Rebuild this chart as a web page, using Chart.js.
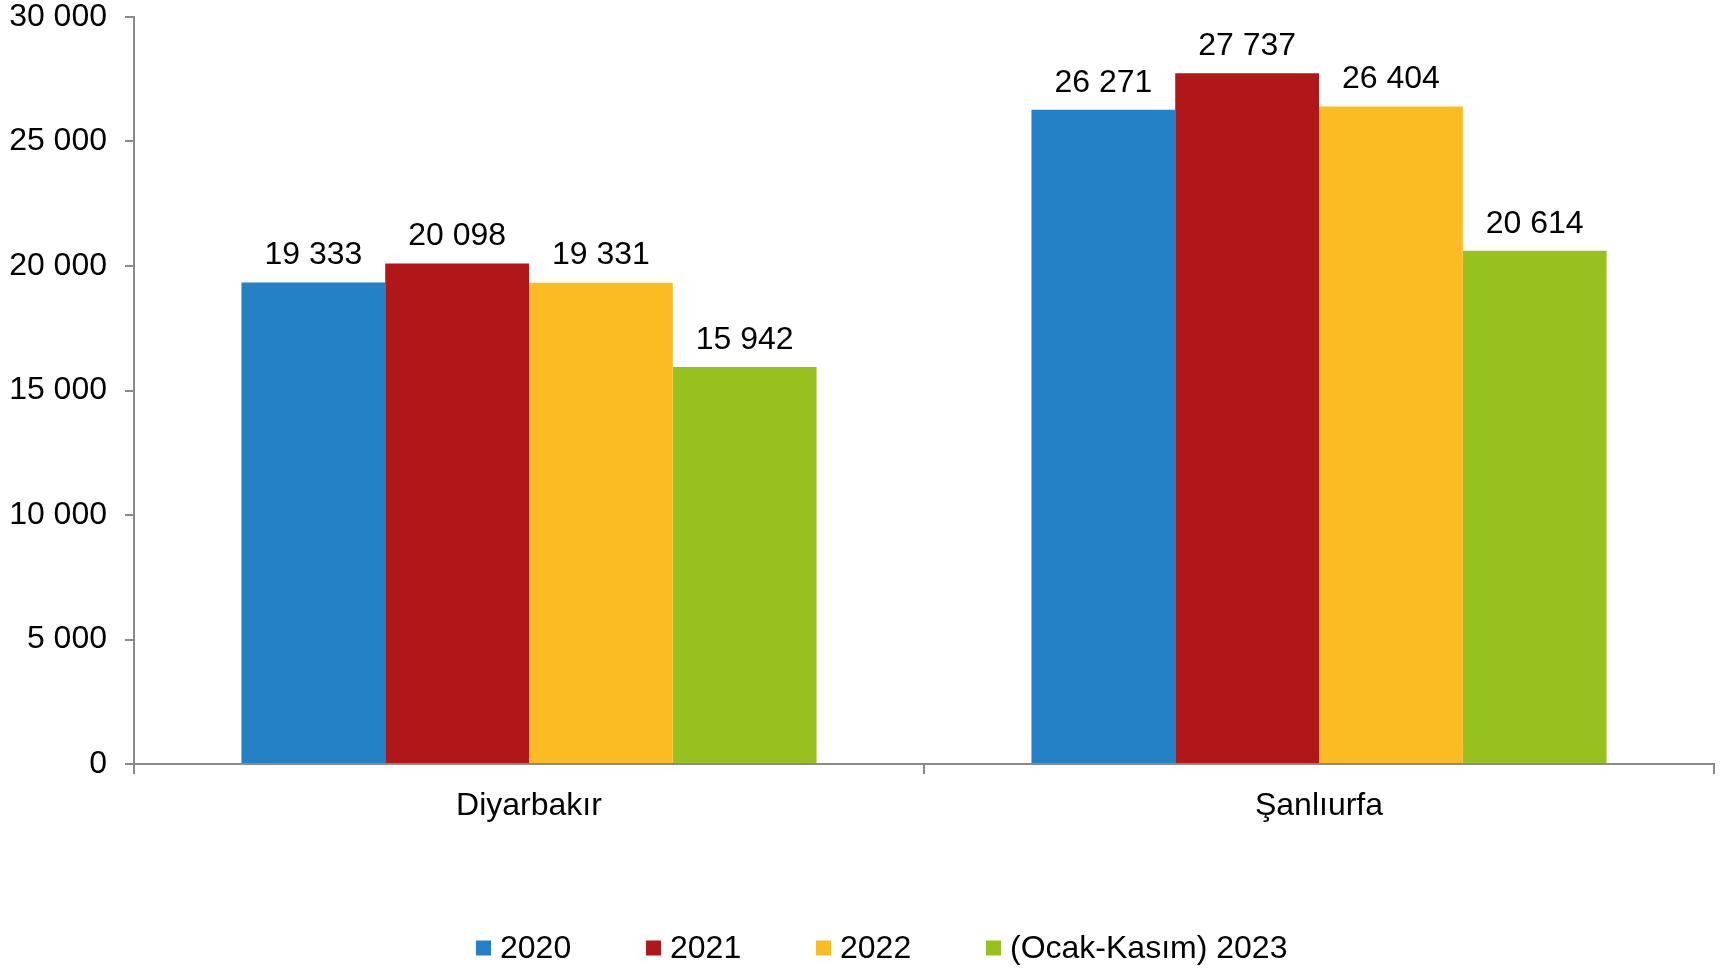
<!DOCTYPE html>
<html>
<head>
<meta charset="utf-8">
<script src="https://cdn.jsdelivr.net/npm/chart.js@4/dist/chart.umd.min.js"></script>
<style>
  html, body { margin: 0; padding: 0; background: #fff; }
  #wrap { width: 1724px; height: 970px; }
</style>
</head>
<body>
<div id="wrap"><canvas id="myChart" width="1724" height="970"></canvas></div>
<script>
var provinces = ['Diyarbakır', 'Şanlıurfa'];
var seriesNames = ['2020', '2021', '2022', '(Ocak-Kasım) 2023'];
var values2020 = [19333, 26271];
var values2021 = [20098, 27737];
var values2022 = [19331, 26404];
var values2023 = [15942, 20614];
var yTicks = [0, 5000, 10000, 15000, 20000, 25000, 30000];

var colors = ['#2581C6', '#AF1718', '#FBBB22', '#97C11F'];
var axisGray = '#8a8a8a';
var fontFamily = '"Liberation Sans", Arial, sans-serif';

function fmt(v) {
    return String(v).replace(/\B(?=(\d{3})+(?!\d))/g, ' ');
}

// value labels above each bar
var barLabels = {
    id: 'barLabels',
    afterDatasetsDraw: function(chart) {
        var ctx = chart.ctx;
        ctx.save();
        ctx.font = '32px ' + fontFamily;
        ctx.fillStyle = '#000';
        ctx.textAlign = 'center';
        ctx.textBaseline = 'middle';
        chart.data.datasets.forEach(function(ds, i) {
            var meta = chart.getDatasetMeta(i);
            meta.data.forEach(function(bar, j) {
                ctx.fillText(fmt(ds.data[j]), bar.x, bar.y - 27);
            });
        });
        ctx.restore();
    }
};

// legend row at the bottom, evenly spaced like the original
var bottomLegend = {
    id: 'bottomLegend',
    afterDraw: function(chart) {
        var ctx = chart.ctx;
        var x = 476, y = 948, step = 170;
        ctx.save();
        ctx.font = '32px ' + fontFamily;
        ctx.textBaseline = 'middle';
        ctx.textAlign = 'left';
        chart.data.datasets.forEach(function(ds, i) {
            var bx = x + i * step;
            ctx.fillStyle = ds.backgroundColor;
            ctx.fillRect(bx, y - 7.5, 15, 15);
            ctx.fillStyle = '#000';
            ctx.fillText(ds.label, bx + 24, y + 1);
        });
        ctx.restore();
    }
};

var allValues = [values2020, values2021, values2022, values2023];

var ctx = document.getElementById('myChart').getContext('2d');
var myChart = new Chart(ctx, {
    type: 'bar',
    data: {
        labels: provinces,
        datasets: seriesNames.map(function(name, i) {
            return {
                label: name,
                data: allValues[i],
                backgroundColor: colors[i],
                borderWidth: 0,
                categoryPercentage: 0.728,
                barPercentage: 1.0
            };
        })
    },
    options: {
        responsive: false,
        animation: false,
        layout: {
            padding: { top: 17, right: 10, left: 0, bottom: 113 }
        },
        plugins: {
            tooltip: { enabled: false },
            legend: { display: false }
        },
        scales: {
            x: {
                grid: {
                    display: true,
                    drawOnChartArea: false,
                    drawTicks: true,
                    tickLength: 10,
                    color: axisGray,
                    lineWidth: 2
                },
                border: { display: true, color: axisGray, width: 2 },
                ticks: {
                    color: '#000',
                    font: { family: fontFamily, size: 32 },
                    padding: 13
                },
                afterFit: function(scale) {
                    scale.height = 93;
                }
            },
            y: {
                min: 0,
                max: 30000,
                afterBuildTicks: function(scale) {
                    scale.ticks = yTicks.map(function(v) { return { value: v }; });
                },
                grid: {
                    display: true,
                    drawOnChartArea: false,
                    drawTicks: true,
                    tickLength: 9,
                    color: axisGray,
                    lineWidth: 2
                },
                border: { display: true, color: axisGray, width: 2 },
                ticks: {
                    color: '#000',
                    font: { family: fontFamily, size: 32, lineHeight: 1 },
                    padding: 18,
                    callback: function(v) { return fmt(v); }
                },
                afterFit: function(scale) {
                    scale.width = 134;
                    scale.paddingTop = 0;
                    scale.paddingBottom = 0;
                }
            }
        }
    },
    plugins: [barLabels, bottomLegend]
});
</script>
</body>
</html>
